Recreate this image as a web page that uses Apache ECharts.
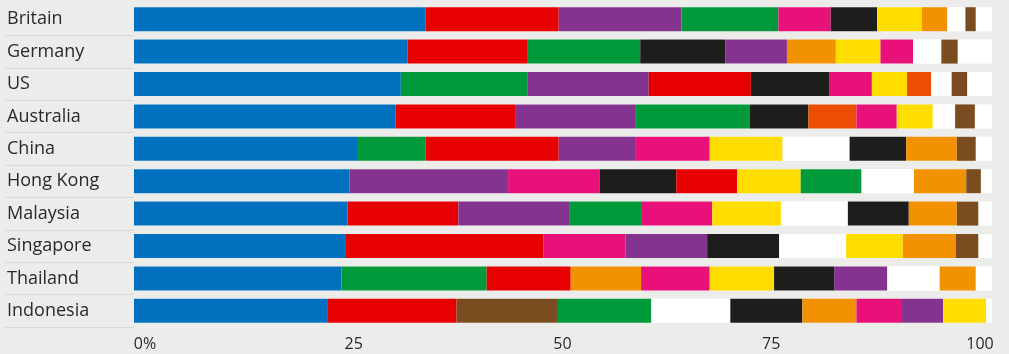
<!DOCTYPE html>
<html>
<head>
<meta charset="utf-8">
<script src="https://cdn.jsdelivr.net/npm/echarts@6/dist/echarts.min.js"></script>
<style>
  html, body { margin: 0; padding: 0; background: #ecedea; }
  #chart { width: 1009px; height: 354px; }
</style>
</head>
<body>
<div id="chart"></div>
<script>
// countries, top to bottom
const countries = ['Britain', 'Germany', 'US', 'Australia', 'China', 'Hong Kong', 'Malaysia', 'Singapore', 'Thailand', 'Indonesia']

// segment order per country (colour keys) and matching shares in %
const britainKeys = ['blue', 'red', 'purple', 'green', 'pink', 'black', 'yellow', 'orange', 'white', 'brown']
const britainVals = [34.0, 15.5, 14.3, 11.3, 6.1, 5.4, 5.2, 3.0, 2.1, 1.2]
const germanyKeys = ['blue', 'red', 'green', 'black', 'purple', 'orange', 'yellow', 'pink', 'white', 'brown']
const germanyVals = [31.9, 14.0, 13.1, 9.9, 7.2, 5.7, 5.2, 3.8, 3.3, 1.9]
const usKeys = ['blue', 'green', 'purple', 'red', 'black', 'pink', 'yellow', 'darkorange', 'white', 'brown']
const usVals = [31.1, 14.8, 14.1, 11.9, 9.1, 5.0, 4.1, 2.8, 2.4, 1.8]
const australiaKeys = ['blue', 'red', 'purple', 'green', 'black', 'darkorange', 'pink', 'yellow', 'white', 'brown']
const australiaVals = [30.5, 14.0, 13.9, 13.4, 6.8, 5.6, 4.7, 4.2, 2.6, 2.3]
const chinaKeys = ['blue', 'green', 'red', 'purple', 'pink', 'yellow', 'white', 'black', 'orange', 'brown']
const chinaVals = [26.1, 7.9, 15.5, 8.9, 8.7, 8.5, 7.8, 6.6, 5.9, 2.2]
const hongKongKeys = ['blue', 'purple', 'pink', 'black', 'red', 'yellow', 'green', 'white', 'orange', 'brown']
const hongKongVals = [25.1, 18.5, 10.7, 8.9, 7.1, 7.4, 7.1, 6.1, 6.1, 1.7]
const malaysiaKeys = ['blue', 'red', 'purple', 'green', 'pink', 'yellow', 'white', 'black', 'orange', 'brown']
const malaysiaVals = [24.9, 12.9, 13.0, 8.4, 8.2, 8.0, 7.8, 7.1, 5.6, 2.5]
const singaporeKeys = ['blue', 'red', 'pink', 'purple', 'black', 'white', 'yellow', 'orange', 'brown']
const singaporeVals = [24.7, 23.0, 9.6, 9.5, 8.4, 7.8, 6.6, 6.2, 2.6]
const thailandKeys = ['blue', 'green', 'red', 'orange', 'pink', 'yellow', 'black', 'purple', 'white', 'orange']
const thailandVals = [24.2, 16.9, 9.8, 8.2, 8.0, 7.5, 7.0, 6.2, 6.1, 4.2]
const indonesiaKeys = ['blue', 'red', 'brown', 'green', 'white', 'black', 'orange', 'pink', 'purple', 'yellow']
const indonesiaVals = [22.6, 15.0, 11.7, 11.0, 9.2, 8.4, 6.3, 5.2, 4.9, 5.0]

const tickLabels = [0, 25, 50, 75, 100]

const palette = {
  blue: '#0070bf', red: '#e60000', purple: '#84348e', green: '#009a3a',
  pink: '#e8117a', black: '#1d1d1b', yellow: '#ffdd00', orange: '#f39200',
  darkorange: '#ec4d00', white: '#ffffff', brown: '#7b4c1f'
}

const rows = [
  [britainKeys, britainVals], [germanyKeys, germanyVals], [usKeys, usVals],
  [australiaKeys, australiaVals], [chinaKeys, chinaVals], [hongKongKeys, hongKongVals],
  [malaysiaKeys, malaysiaVals], [singaporeKeys, singaporeVals], [thailandKeys, thailandVals],
  [indonesiaKeys, indonesiaVals]
]

const nSeg = Math.max(...rows.map(r => r[0].length))

// one stacked series per segment position, coloured per country
const series = []
for (let i = 0; i < nSeg; i++) {
  series.push({
    type: 'bar',
    stack: 'all',
    barWidth: 24,
    silent: true,
    showBackground: i === 0,
    backgroundStyle: { color: '#ffffff' },
    data: rows.map(([keys, vals]) => i < keys.length
      ? { value: vals[i], itemStyle: { color: palette[keys[i]] } }
      : { value: 0, itemStyle: { color: 'transparent' } })
  })
}

const chart = echarts.init(document.getElementById('chart'))
chart.setOption({
  backgroundColor: '#ecedea',
  animation: false,
  grid: { left: 134, right: 17, top: 3, bottom: 27 },
  xAxis: [{
    type: 'value', min: 0, max: 100,
    axisLine: { show: false }, axisTick: { show: false },
    splitLine: { show: false }, axisLabel: { show: false }
  }, {
    // labels sit on a slightly narrower scale in the original
    type: 'value', position: 'bottom', min: -1.32, max: 101.44,
    axisLine: { show: false }, axisTick: { show: false }, splitLine: { show: false },
    axisLabel: {
      customValues: tickLabels,
      formatter: v => v === 0 ? '0%' : String(v),
      color: '#2a2a2a', fontSize: 16, fontFamily: 'Open Sans', margin: 9
    }
  }],
  yAxis: {
    type: 'category', data: countries, inverse: true,
    axisLine: { show: false },
    axisTick: {
      show: true, length: 129,
      interval: (idx) => idx > 0 && idx < countries.length,
      lineStyle: { color: '#d9dad6', width: 1 }
    },
    axisLabel: {
      align: 'left', margin: 127, color: '#2a2a2a',
      fontSize: 18, fontFamily: 'Open Sans'
    }
  },
  series
})
</script>
</body>
</html>
